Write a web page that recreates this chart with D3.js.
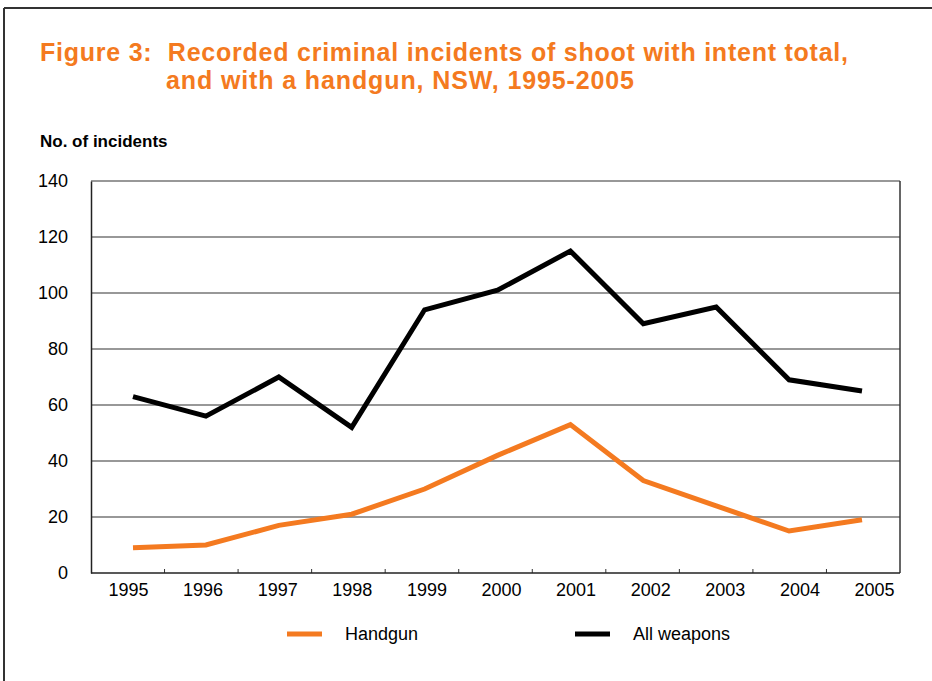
<!DOCTYPE html>
<html>
<head>
<meta charset="utf-8">
<script src="https://cdn.jsdelivr.net/npm/d3@7"></script>
<style>
  html, body { margin: 0; padding: 0; background: #fff; }
  svg { display: block; }
  text { font-family: "Liberation Sans", Arial, sans-serif; }
</style>
</head>
<body>
<svg id="chart" width="932" height="681"></svg>
<script>
const years = ["1995","1996","1997","1998","1999","2000","2001","2002","2003","2004","2005"];
const handgun = [9, 10, 17, 21, 30, 42, 53, 33, 24, 15, 19];
const allWeapons = [63, 56, 70, 52, 94, 101, 115, 89, 95, 69, 65];
const yTicks = [0, 20, 40, 60, 80, 100, 120, 140];
const titleLines = ["Figure 3:  Recorded criminal incidents of shoot with intent total,", "and with a handgun, NSW, 1995-2005"];
const yAxisTitle = "No. of incidents";
const seriesNames = ["Handgun", "All weapons"];

const orange = "#F47A20";
const svg = d3.select("#chart");

// outer frame (partial border, as in reference)
svg.append("line").attr("x1", 4).attr("x2", 4).attr("y1", 8).attr("y2", 681).attr("stroke", "#333").attr("stroke-width", 2);
svg.append("line").attr("x1", 4).attr("x2", 932).attr("y1", 8).attr("y2", 8).attr("stroke", "#333").attr("stroke-width", 2);

// title: two lines
const titleSize = 25;
svg.append("text").attr("x", 40).attr("y", 60.5).attr("font-size", titleSize).attr("font-weight", "bold")
  .attr("fill", orange).style("white-space", "pre")
  .attr("textLength", 808).attr("lengthAdjust", "spacing").text(titleLines[0]);
svg.append("text").attr("x", 166).attr("y", 88.5).attr("font-size", titleSize).attr("font-weight", "bold")
  .attr("fill", orange)
  .attr("textLength", 468).attr("lengthAdjust", "spacing").text(titleLines[1]);

svg.append("text").attr("x", 40).attr("y", 147).attr("font-size", 17).attr("font-weight", "bold")
  .attr("fill", "#000").text(yAxisTitle);

// plot area
const L = 91, R = 900, T = 181, B = 573;
const y = d3.scaleLinear().domain([0, 140]).range([B, T]);
const xBand = d3.scaleBand().domain(years).range([L, R]);
const xLabel = d3.scalePoint().domain(years).range([128, 874]);
const xPt = d3.scalePoint().domain(years).range([133, 862]);

// gridlines
svg.append("g").selectAll("line").data(yTicks.filter(v => v > 0)).join("line")
  .attr("x1", L).attr("x2", R).attr("y1", d => y(d)).attr("y2", d => y(d))
  .attr("stroke", "#333").attr("stroke-width", 1.2);

// frame right
svg.append("line").attr("x1", R).attr("x2", R).attr("y1", T).attr("y2", B).attr("stroke", "#333").attr("stroke-width", 1.5);

// y axis
const yAxis = svg.append("g").attr("transform", `translate(${L},0)`)
  .call(d3.axisLeft(y).tickValues(yTicks).tickSize(0).tickPadding(23));
yAxis.select(".domain").attr("stroke", "#222").attr("stroke-width", 1.5);
yAxis.selectAll("text").attr("font-size", 18).attr("fill", "#000").style("font-family", "Liberation Sans, Arial");

// x axis ticks (band boundaries)
const bounds = years.slice(1);
svg.append("g").selectAll("line").data(bounds).join("line")
  .attr("x1", d => xBand(d)).attr("x2", d => xBand(d)).attr("y1", B).attr("y2", B - 4)
  .attr("stroke", "#333").attr("stroke-width", 1);
svg.append("line").attr("x1", L).attr("x2", R).attr("y1", B).attr("y2", B).attr("stroke", "#222").attr("stroke-width", 1.5);

const xAxis = svg.append("g").attr("transform", `translate(0,${B})`)
  .call(d3.axisBottom(xLabel).tickSize(0).tickPadding(10));
xAxis.select(".domain").remove();
xAxis.selectAll("text").attr("font-size", 18).attr("fill", "#000").style("font-family", "Liberation Sans, Arial");

// lines
const line = d3.line().x((d, i) => xPt(years[i])).y(d => y(d));
svg.append("path").datum(allWeapons).attr("d", line).attr("fill", "none")
  .attr("stroke", "#000").attr("stroke-width", 5).attr("stroke-linejoin", "miter");
svg.append("path").datum(handgun).attr("d", line).attr("fill", "none")
  .attr("stroke", orange).attr("stroke-width", 5).attr("stroke-linejoin", "miter");

// legend
const legend = [
  { name: seriesNames[0], color: orange, x: 287 },
  { name: seriesNames[1], color: "#000", x: 575 }
];
const lg = svg.append("g").selectAll("g").data(legend).join("g");
lg.append("line").attr("x1", d => d.x).attr("x2", d => d.x + 35).attr("y1", 634).attr("y2", 634)
  .attr("stroke", d => d.color).attr("stroke-width", 5);
lg.append("text").attr("x", d => d.x + 58).attr("y", 640).attr("font-size", 18).attr("fill", "#000")
  .text(d => d.name);
</script>
</body>
</html>
